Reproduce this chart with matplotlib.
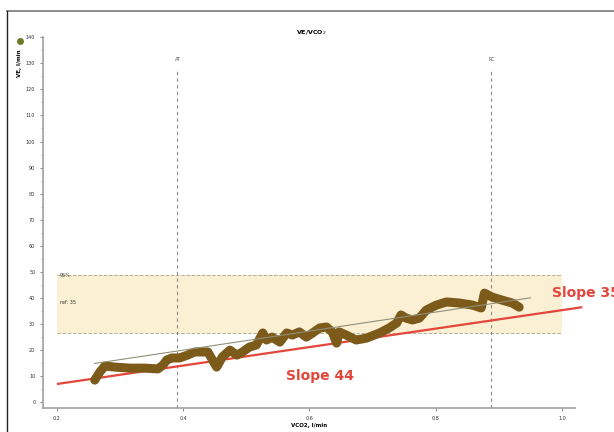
import numpy as np
import matplotlib
matplotlib.use('Agg')
import matplotlib.pyplot as plt
from matplotlib.patches import Rectangle
from matplotlib.lines import Line2D

# ----------------------------------------------------------------
# Data
# ----------------------------------------------------------------
vco2 = [0.260, 0.268, 0.276, 0.292, 0.315, 0.339, 0.360, 0.368, 0.374, 0.382,
        0.394, 0.407, 0.418, 0.426, 0.439, 0.453, 0.462, 0.474, 0.485, 0.494,
        0.505, 0.516, 0.526, 0.532, 0.541, 0.553, 0.564, 0.573, 0.584, 0.595,
        0.605, 0.616, 0.627, 0.636, 0.643, 0.647, 0.658, 0.674, 0.690, 0.711,
        0.726, 0.738, 0.745, 0.753, 0.763, 0.774, 0.785, 0.801, 0.817, 0.837,
        0.858, 0.872, 0.877, 0.889, 0.905, 0.921, 0.932]
ve = [8.4, 11.5, 13.8, 13.4, 13.0, 13.0, 12.7, 14.2, 16.1, 16.9,
      16.9, 18.0, 19.2, 19.2, 19.2, 13.4, 17.3, 19.9, 18.0, 19.2,
      21.1, 21.9, 26.5, 23.8, 24.9, 23.0, 26.5, 25.7, 26.9, 24.9,
      26.5, 28.4, 28.8, 26.9, 22.6, 26.9, 25.7, 23.8, 24.5, 26.5,
      28.4, 30.3, 33.4, 32.2, 31.5, 32.2, 35.3, 37.2, 38.4, 38.0,
      37.2, 36.1, 41.8, 40.3, 39.1, 38.0, 36.4]

slope_x = [0.2, 1.032]
slope_y = [6.9, 36.4]
fit_x = [0.26, 0.95]
fit_y = [14.8, 40.0]

band_lo, band_hi = 26.5, 48.7
band_x = [0.2, 1.0]
markers = {'AT': 0.391, 'RC': 0.888}

xticks = [0.2, 0.4, 0.6, 0.8, 1.0]
yticks = list(range(0, 150, 10))

RED = '#e3463a'
BROWN = '#7b5a1a'

# ----------------------------------------------------------------
# Plot
# ----------------------------------------------------------------
fig = plt.figure(figsize=(6.14, 4.32), dpi=100)
ax = fig.add_axes([0.070, 0.0556, 0.866, 0.858])

ax.add_patch(Rectangle((band_x[0], band_lo), band_x[1] - band_x[0],
                       band_hi - band_lo, color='#fcf0d4', lw=0, zorder=0))
for yb in (band_lo, band_hi):
    ax.plot(band_x, [yb, yb], color='#b8b090', lw=0.7, ls='--', zorder=1)
ax.text(band_x[0] + 0.005, band_hi, '95%', fontsize=3.5, va='center',
        ha='left', color='#444444', zorder=2)
ax.text(band_x[0] + 0.005, 38.3, 'ref: 35', fontsize=3.5, va='center',
        ha='left', color='#333333', zorder=2)

for name, xv in markers.items():
    ax.plot([xv, xv], [-2.3, 128], color='#8a8a8a', lw=0.8, ls=(0, (3, 3)),
            zorder=1)
    ax.text(xv, 131.5, name, fontsize=3.5, ha='center', va='center',
            color='#555555')

ax.plot(slope_x, slope_y, color=RED, lw=1.6, zorder=2, clip_on=False,
        solid_capstyle='butt')
ax.plot(vco2, ve, color=BROWN, lw=6.5, zorder=3, solid_joinstyle='round',
        solid_capstyle='round')
ax.plot(fit_x, fit_y, color='#8f8f7a', lw=0.8, zorder=4)

ax.text(0.617, 10.0, 'Slope 44', color=RED, fontsize=10, fontweight='bold',
        ha='center', va='center')
ax.text(0.984, 41.8, 'Slope 35', color=RED, fontsize=10, fontweight='bold',
        ha='left', va='center', clip_on=False)

ax.set_xlim(0.178, 1.02)
ax.set_ylim(-2.3, 140)
ax.set_xticks(xticks)
ax.set_xticklabels([f'{v:.1f}' for v in xticks])
ax.set_yticks(yticks)
ax.set_yticks(np.arange(5, 140, 10), minor=True)
ax.tick_params(labelsize=3.5, length=2.5, width=0.6, colors='#777777',
               labelcolor='#333333', pad=3)
ax.tick_params(which='minor', length=1.5, width=0.5, colors='#999999')
for side in ('top', 'right'):
    ax.spines[side].set_visible(False)
for side in ('left', 'bottom'):
    ax.spines[side].set_color('#a0a0a0')
    ax.spines[side].set_linewidth(1.2)
ax.patch.set_alpha(0)

ax.set_xlabel('VCO2, l/min', fontsize=4, fontweight='bold', labelpad=1.5)
fig.text(0.507, 0.924, r'VE/VCO$_2$', fontsize=4.5, fontweight='bold',
         ha='center', va='center')
fig.text(0.032, 0.854, 'VE, l/min', fontsize=4, fontweight='bold',
         rotation=90, ha='center', va='center')
fig.add_artist(Line2D([0.032], [0.905], marker='o', markersize=4,
                      color='#6b7a2a', transform=fig.transFigure))

# screenshot frame
fig.add_artist(Line2D([0.011, 1.0], [0.975, 0.975], color='#777777', lw=1.2,
                      transform=fig.transFigure))
fig.add_artist(Line2D([0.011, 0.011], [0.0, 0.975], color='#222222', lw=1.0,
                      transform=fig.transFigure))

fig.savefig('out.png', dpi=100)
